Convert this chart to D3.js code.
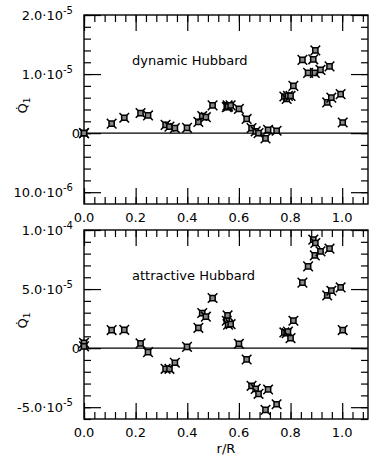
<!DOCTYPE html>
<html>
<head>
<meta charset="utf-8">
<script src="https://cdn.jsdelivr.net/npm/d3@7"></script>
<style>
  body { margin: 0; background: #fff; }
  svg text { font-family: "DejaVu Sans", sans-serif; fill: #000; }
</style>
</head>
<body>
<div id="chart"></div>
<script>
// r/R positions (same for both panels)
const rR = [0.0, 0.0, 0.107, 0.156, 0.219, 0.248, 0.316, 0.331, 0.352, 0.399,
            0.443, 0.458, 0.472, 0.498, 0.553, 0.556, 0.558, 0.568, 0.600, 0.630,
            0.649, 0.665, 0.676, 0.703, 0.713, 0.746, 0.776, 0.785, 0.790, 0.800,
            0.811, 0.846, 0.868, 0.888, 0.896, 0.894, 0.916, 0.951, 0.942, 0.958,
            0.994, 1.002];
// Q1 dot, in units of 1e-5
const dynamicQ = [0.0, 0.0, 0.16, 0.26, 0.34, 0.30, 0.14, 0.11, 0.085, 0.09,
                  0.19, 0.29, 0.27, 0.47, 0.44, 0.47, 0.45, 0.47, 0.41, 0.24,
                  0.085, 0.03, 0.0, -0.09, 0.056, 0.04, 0.62, 0.58, 0.63, 0.63,
                  0.80, 1.24, 1.02, 1.25, 1.40, 1.02, 1.07, 1.13, 0.52, 0.60,
                  0.66, 0.18];
const attractiveQ = [0.45, 0.15, 1.53, 1.55, 0.40, -0.34, -1.75, -1.75, -1.24, 0.11,
                     1.72, 2.97, 2.66, 4.24, 2.32, 2.77, 1.98, 2.03, 0.37, -0.96,
                     -3.19, -3.45, -3.87, -5.23, -3.50, -4.75, 1.33, 1.27, 1.40, 0.85,
                     2.32, 5.54, 6.92, 9.18, 8.90, 7.85, 8.19, 8.42, 4.46, 4.86,
                     5.14, 1.53];

const xTicks = [0.0, 0.2, 0.4, 0.6, 0.8, 1.0];
const xTickLabels = ["0.0", "0.2", "0.4", "0.6", "0.8", "1.0"];

const topYTicks = [-1.0, 0, 1.0, 2.0];
const topYLabels = [["10.0·10", "-6"], ["0", ""], ["1.0·10", "-5"], ["2.0·10", "-5"]];
const botYTicks = [-5.0, 0, 5.0, 10.0];
const botYLabels = [["-5.0·10", "-5"], ["0", ""], ["5.0·10", "-5"], ["1.0·10", "-4"]];

const W = 382, H = 457;
const left = 84, right = 368;

const svg = d3.select("#chart").append("svg")
  .attr("width", W).attr("height", H);

const x = d3.scaleLinear().domain([0, 1.1]).range([left, right]);

const panels = [
  { top: 15, bottom: 204, domain: [-1.2, 2.0], minorStep: 0.2, ys: dynamicQ,
    ticks: topYTicks, labels: topYLabels, title: "dynamic Hubbard" },
  { top: 230, bottom: 419, domain: [-6.0, 10.0], minorStep: 1.0, ys: attractiveQ,
    ticks: botYTicks, labels: botYLabels, title: "attractive Hubbard" }
];

// small square with spikes at the corners
const a = 2.6, s = 4.8;
const squarePath = "M" + (-a) + "," + (-a) + "H" + a + "V" + a + "H" + (-a) + "Z";
const spikePath = "M" + (-s) + "," + (-s) + "L" + (-a) + "," + (-a) +
  "M" + s + "," + (-s) + "L" + a + "," + (-a) +
  "M" + s + "," + s + "L" + a + "," + a +
  "M" + (-s) + "," + s + "L" + (-a) + "," + a;

panels.forEach(function(p) {
  const y = d3.scaleLinear().domain(p.domain).range([p.bottom, p.top]);
  const g = svg.append("g");

  const xMinor = d3.range(0, 1.1001, 0.04);
  const yMinor = d3.range(Math.ceil(p.domain[0] / p.minorStep) * p.minorStep, p.domain[1] + 1e-9, p.minorStep);

  function ticksX(pos, axisFn, vals, size) {
    g.append("g").attr("transform", "translate(0," + pos + ")")
      .call(axisFn(x).tickValues(vals).tickSize(size).tickFormat(""))
      .call(function(ax) { ax.select(".domain").remove(); ax.selectAll("line").attr("stroke-width", 1.2); });
  }
  function ticksY(pos, axisFn, vals, size) {
    g.append("g").attr("transform", "translate(" + pos + ",0)")
      .call(axisFn(y).tickValues(vals).tickSize(size).tickFormat(""))
      .call(function(ax) { ax.select(".domain").remove(); ax.selectAll("line").attr("stroke-width", 1.2); });
  }

  ticksX(p.bottom, d3.axisBottom, xMinor, -7);
  ticksX(p.bottom, d3.axisBottom, xTicks, -16);
  ticksX(p.top, d3.axisTop, xMinor, -7);
  ticksX(p.top, d3.axisTop, xTicks, -16);
  ticksY(left, d3.axisLeft, yMinor, -7);
  ticksY(left, d3.axisLeft, p.ticks, -17);
  ticksY(right, d3.axisRight, yMinor, -7);
  ticksY(right, d3.axisRight, p.ticks, -17);

  // frame
  g.append("rect")
    .attr("x", left).attr("y", p.top)
    .attr("width", right - left).attr("height", p.bottom - p.top)
    .attr("fill", "none").attr("stroke", "#000").attr("stroke-width", 1.4);

  // zero line
  g.append("line")
    .attr("x1", left).attr("x2", right)
    .attr("y1", y(0)).attr("y2", y(0))
    .attr("stroke", "#000").attr("stroke-width", 1.4);

  // x tick labels
  g.selectAll(".xl").data(xTicks).enter().append("text")
    .attr("x", d => x(d)).attr("y", p.bottom + 18)
    .attr("text-anchor", "middle").attr("font-size", 13)
    .text((d, i) => xTickLabels[i]);

  // y tick labels
  p.ticks.forEach(function(t, i) {
    const lab = p.labels[i];
    const tx = g.append("text")
      .attr("x", lab[1] === "" ? 80 : 73).attr("y", y(t) + 5)
      .attr("text-anchor", "end").attr("font-size", 13);
    tx.append("tspan").text(lab[0]);
    if (lab[1] !== "") tx.append("tspan").attr("dy", -6).attr("font-size", 10).text(lab[1]);
  });

  // y axis label
  const ql = g.append("text")
    .attr("transform", "translate(27," + ((p.top + p.bottom) / 2 - 4) + ") rotate(-90)")
    .attr("text-anchor", "middle").attr("font-size", 13);
  ql.append("tspan").text("Q\u0307");
  ql.append("tspan").attr("dy", 3).attr("font-size", 9).text("1");

  // title
  g.append("text")
    .attr("x", 132).attr("y", p.top + 50)
    .attr("font-size", 13)
    .text(p.title);

  // markers
  const pts = g.selectAll(".pt").data(rR).enter().append("g")
    .attr("transform", (d, i) => "translate(" + x(d) + "," + y(p.ys[i]) + ")");
  pts.append("path").attr("d", squarePath)
    .attr("fill", "#888").attr("stroke", "#000").attr("stroke-width", 1.5);
  pts.append("path").attr("d", spikePath)
    .attr("fill", "none").attr("stroke", "#000").attr("stroke-width", 1.5);
});

svg.append("text")
  .attr("x", 226).attr("y", 453)
  .attr("text-anchor", "middle").attr("font-size", 13)
  .text("r/R");
</script>
</body>
</html>
